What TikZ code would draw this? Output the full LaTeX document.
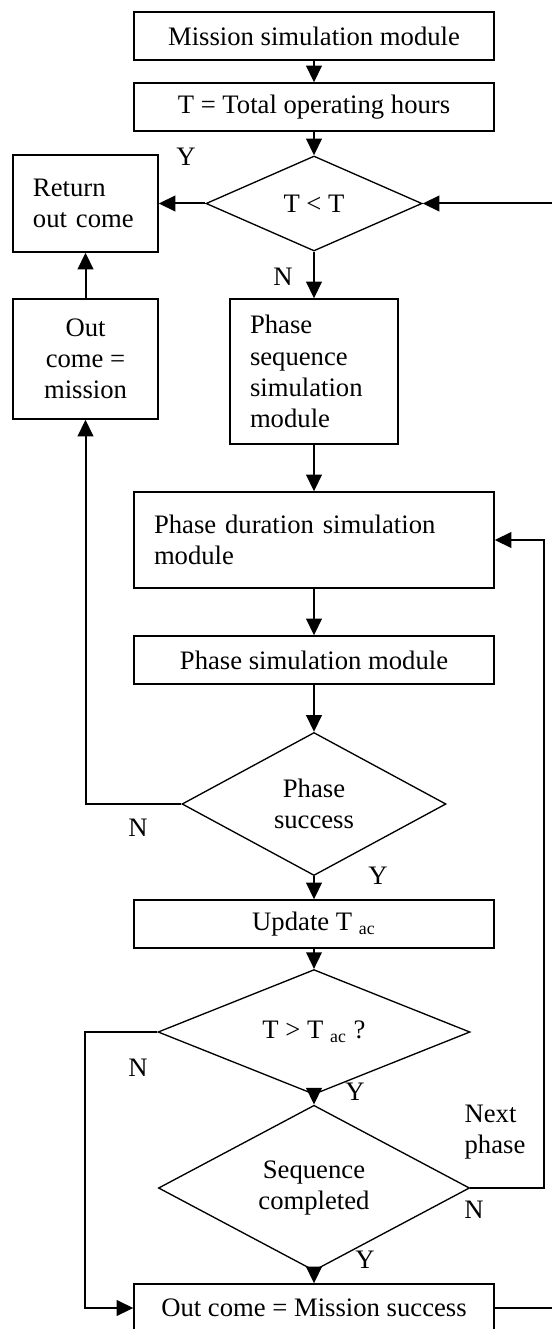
\documentclass[tikz,border=0pt]{standalone}
\usepackage{fontspec}
\setmainfont{Liberation Serif}
\usetikzlibrary{shapes.geometric,arrows.meta}
\tikzset{
  box/.style={draw, line width=0.6pt, minimum width=162pt, minimum height=21.6pt, inner sep=0pt, align=center},
  lbox/.style={draw, line width=0.6pt, inner xsep=9pt, inner ysep=0pt, align=left},
  diam/.style={draw, diamond, line width=0.6pt, inner sep=0pt, align=center},
  arr/.style={-{Triangle[length=7.5pt,width=7pt]}, line width=0.9pt},
  lne/.style={line width=0.9pt}
}
\begin{document}
\begin{tikzpicture}[x=0.45pt,y=-0.45pt,font=\fontsize{12}{14}\selectfont]
  \useasboundingbox (0,0) rectangle (552,1329);
  % main column
  \node[box] (mission) at (314,36) {Mission simulation module};
  \node[box] (total) at (314,107) {T = Total operating hours};
  \node[diam, minimum width=97.2pt, minimum height=42.75pt] (d1) at (314,203.5) {T < T};
  \node[lbox, text width=47.25pt, minimum height=43.65pt] (ret) at (85.5,203.5) {Return\\out come};
  \node[box, minimum width=65.25pt, minimum height=54pt] (fail) at (85.5,359) {Out\\come =\\mission};
  \node[lbox, text width=57.6pt, minimum height=65.25pt] (seq) at (314,371.5) {Phase\\sequence\\simulation\\module};
  \node[lbox, text width=144pt, minimum height=43.2pt] (dur) at (314,540) {Phase duration simulation\\module};
  \node[box] (sim) at (314,660) {Phase simulation module};
  \node[diam, minimum width=118.8pt, minimum height=64.35pt] (d2) at (314,804) {Phase\\success};
  \node[box] (upd) at (314,924) {Update T \textsubscript{ac}};
  \node[diam, minimum width=140.4pt, minimum height=53.55pt] (d3) at (314,1032) {T > T \textsubscript{ac} ?};
  \node[diam, minimum width=140pt, minimum height=64.8pt] (d4) at (314,1188) {Sequence\\completed};
  \node[box] (succ) at (314,1308) {Out come = Mission success};
  % branch labels
  \node (y1) at (186,157) {Y};
  \node (n1) at (283,277) {N};
  \node (n2) at (138,828) {N};
  \node (y2) at (378,876) {Y};
  \node (n3) at (138,1068) {N};
  \node (y3) at (355,1092) {Y};
  \node[align=left] (next) at (495,1132) {Next\\phase};
  \node (n4) at (474,1210) {N};
  \node (y4) at (365,1260) {Y};
  \coordinate (rin) at (552,203.5);
  \coordinate (rout) at (552,1308);
  % connectors
  \draw[arr] (mission) -- (total);
  \draw[arr] (total) -- (d1);
  \draw[arr] (d1.west) -- (ret.east);
  \draw[arr] (rin) -- (d1.east);
  \draw[arr] (d1) -- (seq);
  \draw[arr] (seq) -- (dur);
  \draw[arr] (dur) -- (sim);
  \draw[arr] (sim) -- (d2);
  \draw[arr] (d2.west) -| (fail.south);
  \draw[arr] (fail) -- (ret);
  \draw[arr] (d2) -- (upd);
  \draw[arr] (upd) -- (d3);
  \draw[arr] (d3.west) -- ++(-72,0) |- (succ.west);
  \draw[arr] (d3) -- (d4);
  \draw[arr] (d4.east) -- ++(74,0) |- (dur.east);
  \draw[arr] (d4) -- (succ);
  \draw[lne] (succ.east) -- (rout);
\end{tikzpicture}
\end{document}
